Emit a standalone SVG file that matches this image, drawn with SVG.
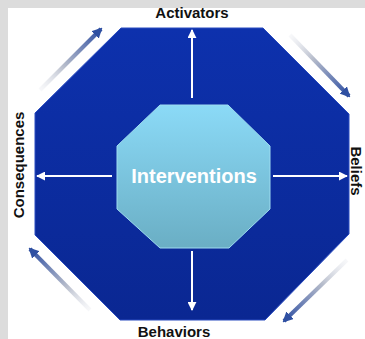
<svg xmlns="http://www.w3.org/2000/svg" width="365" height="339" viewBox="0 0 365 339">
<defs>
<style>
.lbl{font-family:"Liberation Sans",Arial,sans-serif;font-weight:bold;font-size:15px;fill:#111;text-anchor:middle}
.ctr{font-family:"Liberation Sans",Arial,sans-serif;font-weight:bold;font-size:20px;fill:#ffffff;text-anchor:middle}
.wa{stroke:#ffffff;stroke-width:2;fill:none;marker-end:url(#wh)}
.ga{stroke-width:4;fill:none;marker-end:url(#bh);stroke-linecap:butt}
</style>
<marker id="wh" viewBox="0 0 10 10" refX="9" refY="5" markerWidth="4.5" markerHeight="4.5" orient="auto" markerUnits="strokeWidth">
<path d="M0,0 L10,5 L0,10 z" fill="#ffffff"/>
</marker>
<marker id="bh" viewBox="0 0 10 10" refX="8" refY="5" markerWidth="2.6" markerHeight="2.6" orient="auto" markerUnits="strokeWidth">
<path d="M0,0 L10,5 L0,10 z" fill="#2f50a2"/>
</marker>
<linearGradient id="outerG" x1="0" y1="0" x2="0" y2="1">
<stop offset="0" stop-color="#0d31ad"/>
<stop offset="1" stop-color="#0a2792"/>
</linearGradient>
<linearGradient id="innerG" x1="0" y1="0" x2="0" y2="1">
<stop offset="0" stop-color="#8bdaf7"/>
<stop offset="1" stop-color="#6aaec4"/>
</linearGradient>
<linearGradient id="gTL" gradientUnits="userSpaceOnUse" x1="40" y1="90" x2="100" y2="30">
<stop offset="0" stop-color="#e6e8ee" stop-opacity="0.3"/>
<stop offset="0.4" stop-color="#b6bccb"/>
<stop offset="1" stop-color="#3151a3"/>
</linearGradient>
<linearGradient id="gTR" gradientUnits="userSpaceOnUse" x1="290" y1="35" x2="348" y2="95">
<stop offset="0" stop-color="#e6e8ee" stop-opacity="0.3"/>
<stop offset="0.4" stop-color="#b6bccb"/>
<stop offset="1" stop-color="#3151a3"/>
</linearGradient>
<linearGradient id="gBR" gradientUnits="userSpaceOnUse" x1="347" y1="260" x2="285" y2="320">
<stop offset="0" stop-color="#e6e8ee" stop-opacity="0.3"/>
<stop offset="0.4" stop-color="#b6bccb"/>
<stop offset="1" stop-color="#3151a3"/>
</linearGradient>
<linearGradient id="gBL" gradientUnits="userSpaceOnUse" x1="90" y1="310" x2="31" y2="250">
<stop offset="0" stop-color="#e6e8ee" stop-opacity="0.3"/>
<stop offset="0.4" stop-color="#b6bccb"/>
<stop offset="1" stop-color="#3151a3"/>
</linearGradient>
</defs>
<rect x="0" y="0" width="365" height="339" fill="#dcdcdc"/>
<rect x="8" y="8" width="357" height="331" fill="#ffffff"/>
<g id="outer">
<polygon points="121,28 263,28 349,114 349,234 265,320 120,320 35,235 35,113" fill="url(#outerG)" stroke="#2a4cc0" stroke-width="1"/>
</g>
<g id="connectors">
<line class="wa" x1="192" y1="98" x2="192" y2="30"/>
<line class="wa" x1="192" y1="251" x2="192" y2="310"/>
<line class="wa" x1="112" y1="176" x2="37" y2="176"/>
<line class="wa" x1="273" y1="176" x2="347" y2="176"/>
<line class="ga" x1="40" y1="90" x2="101" y2="29" stroke="url(#gTL)"/>
<line class="ga" x1="290" y1="35" x2="349" y2="96" stroke="url(#gTR)"/>
<line class="ga" x1="347" y1="260" x2="284" y2="321" stroke="url(#gBR)"/>
<line class="ga" x1="90" y1="310" x2="30" y2="249" stroke="url(#gBL)"/>
</g>
<g id="interventions">
<polygon points="160,105 228,105 270,146 270,209 229,248 160,248 117,209 117,146" fill="url(#innerG)" stroke="#9fdcf0" stroke-width="1"/>
<text class="ctr" x="194" y="183">Interventions</text>
</g>
<g id="activators"><text class="lbl" x="192" y="18">Activators</text></g>
<g id="behaviors"><text class="lbl" x="174" y="337">Behaviors</text></g>
<g id="consequences"><text class="lbl" transform="translate(24,165) rotate(-90)">Consequences</text></g>
<g id="beliefs"><text class="lbl" transform="translate(351,171) rotate(90)">Beliefs</text></g>
</svg>
